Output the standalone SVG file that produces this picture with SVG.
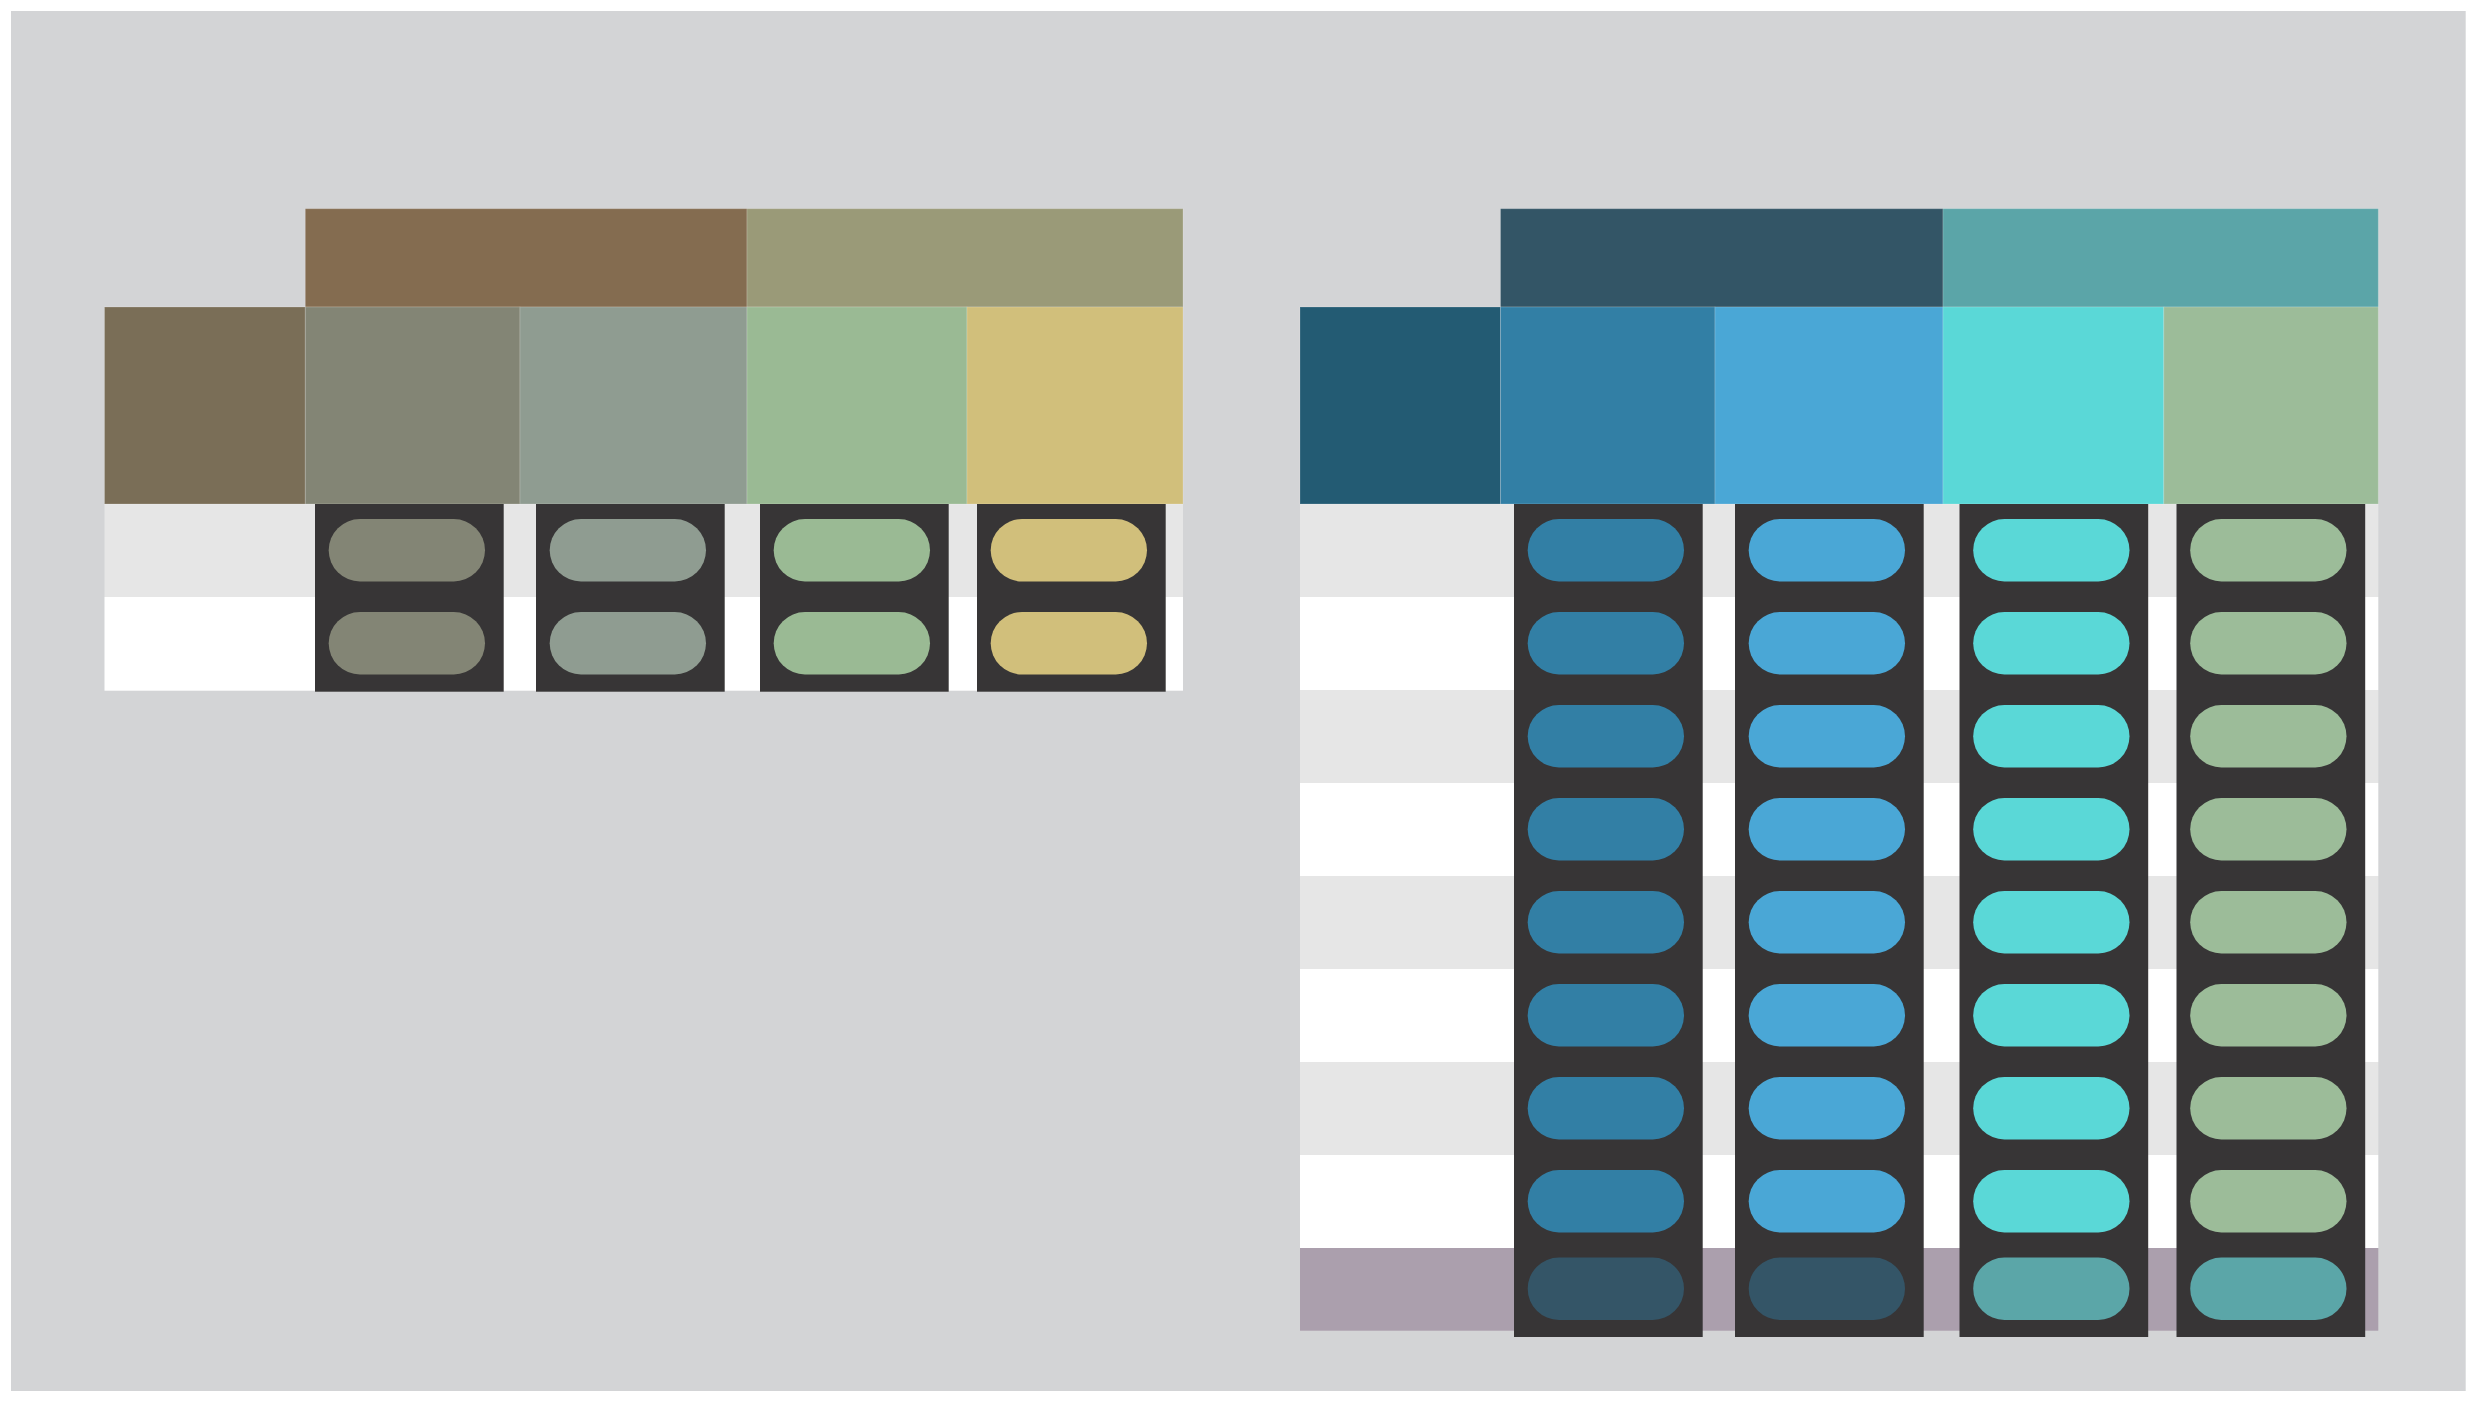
<svg xmlns="http://www.w3.org/2000/svg" width="2476" height="1403" viewBox="0 0 2476 1403">
  <style>
    .cell { stroke: #ffffff; stroke-opacity: 0.18; stroke-width: 1; }
    .rowA { fill: #e6e6e6; }
    .rowB { fill: #ffffff; }
    .dark { fill: #373536; }
    .pill { stroke: none; }
  </style>
  <rect x="0" y="0" width="2476" height="1403" fill="#ffffff"/>
  <rect id="frame" x="11" y="11" width="2454.7" height="1380" fill="#d3d4d6"/>

  <g id="connectors"/>

  <!-- LEFT TABLE -->
  <g id="table-left">
    <g id="left-rows">
      <rect class="rowA" x="104.5" y="504" width="1078.5" height="93"/>
      <rect class="rowB" x="104.5" y="597" width="1078.5" height="93.7"/>
    </g>
    <g id="left-header">
      <rect id="left-h1" class="cell" x="305.3" y="208.7" width="441.7" height="98.3" fill="#846c50"/>
      <rect id="left-h2" class="cell" x="747" y="208.7" width="436" height="98.3" fill="#9a9a78"/>
    </g>
    <g id="left-block">
      <rect id="left-c0" class="cell" x="104.5" y="307" width="200.8" height="197" fill="#7a6e57"/>
      <rect id="left-c1" class="cell" x="305.3" y="307" width="214.7" height="197" fill="#838575"/>
      <rect id="left-c2" class="cell" x="520" y="307" width="227" height="197" fill="#8f9c91"/>
      <rect id="left-c3" class="cell" x="747" y="307" width="220" height="197" fill="#9aba94"/>
      <rect id="left-c4" class="cell" x="967" y="307" width="216" height="197" fill="#d1bf7b"/>
    </g>
    <g id="left-col1">
      <rect class="dark" x="315" y="504" width="188.7" height="187.7"/>
      <rect class="pill" x="328.7" y="519" width="156.3" height="62.5" rx="31.25" fill="#838575"/>
      <rect class="pill" x="328.7" y="612" width="156.3" height="62.5" rx="31.25" fill="#838575"/>
    </g>
    <g id="left-col2">
      <rect class="dark" x="536" y="504" width="188.7" height="187.7"/>
      <rect class="pill" x="549.7" y="519" width="156.3" height="62.5" rx="31.25" fill="#8f9c91"/>
      <rect class="pill" x="549.7" y="612" width="156.3" height="62.5" rx="31.25" fill="#8f9c91"/>
    </g>
    <g id="left-col3">
      <rect class="dark" x="760" y="504" width="188.7" height="187.7"/>
      <rect class="pill" x="773.7" y="519" width="156.3" height="62.5" rx="31.25" fill="#9aba94"/>
      <rect class="pill" x="773.7" y="612" width="156.3" height="62.5" rx="31.25" fill="#9aba94"/>
    </g>
    <g id="left-col4">
      <rect class="dark" x="977" y="504" width="188.7" height="187.7"/>
      <rect class="pill" x="990.7" y="519" width="156.3" height="62.5" rx="31.25" fill="#d1bf7b"/>
      <rect class="pill" x="990.7" y="612" width="156.3" height="62.5" rx="31.25" fill="#d1bf7b"/>
    </g>
  </g>

  <!-- RIGHT TABLE -->
  <g id="table-right">
    <g id="right-rows">
      <rect class="rowA" x="1300" y="504" width="1078.3" height="93"/>
      <rect class="rowB" x="1300" y="597" width="1078.3" height="93"/>
      <rect class="rowA" x="1300" y="690" width="1078.3" height="93"/>
      <rect class="rowB" x="1300" y="783" width="1078.3" height="93"/>
      <rect class="rowA" x="1300" y="876" width="1078.3" height="93"/>
      <rect class="rowB" x="1300" y="969" width="1078.3" height="93"/>
      <rect class="rowA" x="1300" y="1062" width="1078.3" height="93"/>
      <rect class="rowB" x="1300" y="1155" width="1078.3" height="93"/>
      <rect x="1300" y="1248" width="1078.3" height="82.7" fill="#ab9fad"/>
    </g>
    <g id="right-header">
      <rect id="right-h1" class="cell" x="1500.5" y="208.7" width="442.5" height="98.3" fill="#335566"/>
      <rect id="right-h2" class="cell" x="1943" y="208.7" width="435.3" height="98.3" fill="#5ba5a8"/>
    </g>
    <g id="right-block">
      <rect id="right-c0" class="cell" x="1300" y="307" width="200.5" height="197" fill="#235b73"/>
      <rect id="right-c1" class="cell" x="1500.5" y="307" width="214.5" height="197" fill="#327fa5"/>
      <rect id="right-c2" class="cell" x="1715" y="307" width="228" height="197" fill="#4aa7d6"/>
      <rect id="right-c3" class="cell" x="1943" y="307" width="220.8" height="197" fill="#5ad8d7"/>
      <rect id="right-c4" class="cell" x="2163.8" y="307" width="214.5" height="197" fill="#9cbc99"/>
    </g>
    <g id="right-col1">
      <rect class="dark" x="1514" y="504" width="188.7" height="833"/>
      <rect class="pill" x="1527.7" y="519" width="156.3" height="62.5" rx="31.25" fill="#327fa5"/>
      <rect class="pill" x="1527.7" y="612" width="156.3" height="62.5" rx="31.25" fill="#327fa5"/>
      <rect class="pill" x="1527.7" y="705" width="156.3" height="62.5" rx="31.25" fill="#327fa5"/>
      <rect class="pill" x="1527.7" y="798" width="156.3" height="62.5" rx="31.25" fill="#327fa5"/>
      <rect class="pill" x="1527.7" y="891" width="156.3" height="62.5" rx="31.25" fill="#327fa5"/>
      <rect class="pill" x="1527.7" y="984" width="156.3" height="62.5" rx="31.25" fill="#327fa5"/>
      <rect class="pill" x="1527.7" y="1077" width="156.3" height="62.5" rx="31.25" fill="#327fa5"/>
      <rect class="pill" x="1527.7" y="1170" width="156.3" height="62.5" rx="31.25" fill="#327fa5"/>
      <rect class="pill" x="1527.7" y="1257.5" width="156.3" height="62.5" rx="31.25" fill="#345567"/>
    </g>
    <g id="right-col2">
      <rect class="dark" x="1735" y="504" width="188.7" height="833"/>
      <rect class="pill" x="1748.7" y="519" width="156.3" height="62.5" rx="31.25" fill="#4aa7d6"/>
      <rect class="pill" x="1748.7" y="612" width="156.3" height="62.5" rx="31.25" fill="#4aa7d6"/>
      <rect class="pill" x="1748.7" y="705" width="156.3" height="62.5" rx="31.25" fill="#4aa7d6"/>
      <rect class="pill" x="1748.7" y="798" width="156.3" height="62.5" rx="31.25" fill="#4aa7d6"/>
      <rect class="pill" x="1748.7" y="891" width="156.3" height="62.5" rx="31.25" fill="#4aa7d6"/>
      <rect class="pill" x="1748.7" y="984" width="156.3" height="62.5" rx="31.25" fill="#4aa7d6"/>
      <rect class="pill" x="1748.7" y="1077" width="156.3" height="62.5" rx="31.25" fill="#4aa7d6"/>
      <rect class="pill" x="1748.7" y="1170" width="156.3" height="62.5" rx="31.25" fill="#4aa7d6"/>
      <rect class="pill" x="1748.7" y="1257.5" width="156.3" height="62.5" rx="31.25" fill="#345567"/>
    </g>
    <g id="right-col3">
      <rect class="dark" x="1959.5" y="504" width="188.7" height="833"/>
      <rect class="pill" x="1973.2" y="519" width="156.3" height="62.5" rx="31.25" fill="#5ad8d7"/>
      <rect class="pill" x="1973.2" y="612" width="156.3" height="62.5" rx="31.25" fill="#5ad8d7"/>
      <rect class="pill" x="1973.2" y="705" width="156.3" height="62.5" rx="31.25" fill="#5ad8d7"/>
      <rect class="pill" x="1973.2" y="798" width="156.3" height="62.5" rx="31.25" fill="#5ad8d7"/>
      <rect class="pill" x="1973.2" y="891" width="156.3" height="62.5" rx="31.25" fill="#5ad8d7"/>
      <rect class="pill" x="1973.2" y="984" width="156.3" height="62.5" rx="31.25" fill="#5ad8d7"/>
      <rect class="pill" x="1973.2" y="1077" width="156.3" height="62.5" rx="31.25" fill="#5ad8d7"/>
      <rect class="pill" x="1973.2" y="1170" width="156.3" height="62.5" rx="31.25" fill="#5ad8d7"/>
      <rect class="pill" x="1973.2" y="1257.5" width="156.3" height="62.5" rx="31.25" fill="#5ba6a8"/>
    </g>
    <g id="right-col4">
      <rect class="dark" x="2176.5" y="504" width="188.7" height="833"/>
      <rect class="pill" x="2190.2" y="519" width="156.3" height="62.5" rx="31.25" fill="#9cbc99"/>
      <rect class="pill" x="2190.2" y="612" width="156.3" height="62.5" rx="31.25" fill="#9cbc99"/>
      <rect class="pill" x="2190.2" y="705" width="156.3" height="62.5" rx="31.25" fill="#9cbc99"/>
      <rect class="pill" x="2190.2" y="798" width="156.3" height="62.5" rx="31.25" fill="#9cbc99"/>
      <rect class="pill" x="2190.2" y="891" width="156.3" height="62.5" rx="31.25" fill="#9cbc99"/>
      <rect class="pill" x="2190.2" y="984" width="156.3" height="62.5" rx="31.25" fill="#9cbc99"/>
      <rect class="pill" x="2190.2" y="1077" width="156.3" height="62.5" rx="31.25" fill="#9cbc99"/>
      <rect class="pill" x="2190.2" y="1170" width="156.3" height="62.5" rx="31.25" fill="#9cbc99"/>
      <rect class="pill" x="2190.2" y="1257.5" width="156.3" height="62.5" rx="31.25" fill="#5ba6a8"/>
    </g>
  </g>
</svg>
